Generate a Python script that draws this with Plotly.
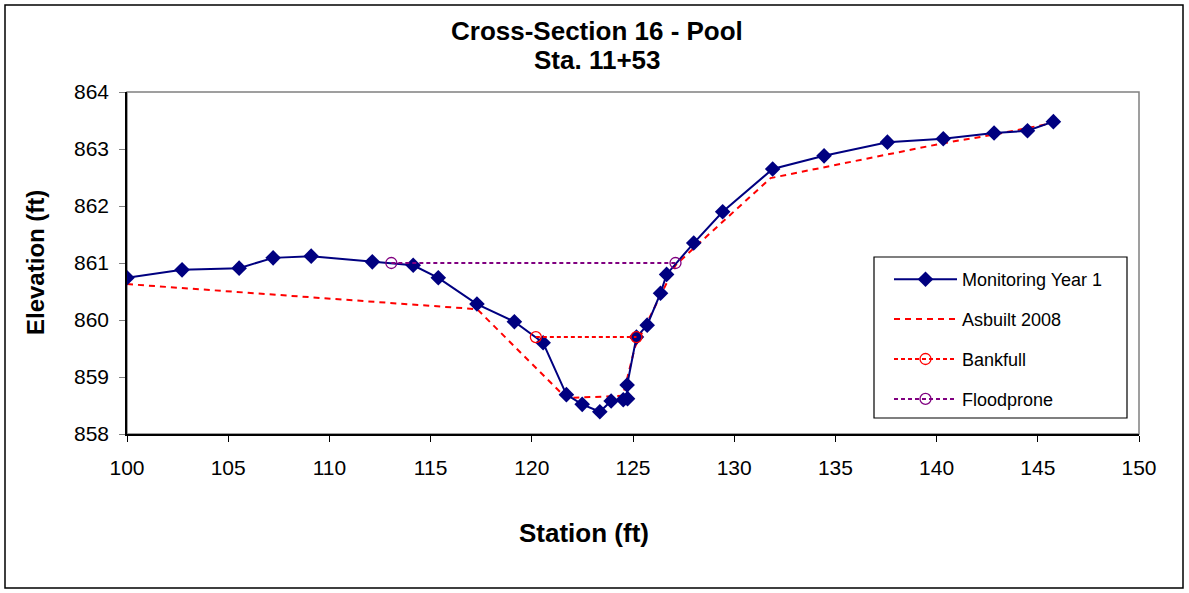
import plotly.graph_objects as go

# Monitoring Year 1
mon_x = [100.0, 102.72, 105.54, 107.22, 109.1, 112.12, 114.14, 115.38, 117.29, 119.14,
         120.56, 121.71, 122.49, 123.36, 123.92, 124.52, 124.73, 124.71, 125.17, 125.7,
         126.36, 126.66, 128.0, 129.43, 131.9, 134.44, 137.57, 140.33, 142.84, 144.49, 145.77]
mon_y = [860.74, 860.88, 860.91, 861.09, 861.12, 861.02, 860.96, 860.74, 860.28, 859.97,
         859.60, 858.69, 858.52, 858.39, 858.58, 858.60, 858.62, 858.86, 859.70, 859.91,
         860.47, 860.80, 861.35, 861.90, 862.65, 862.88, 863.12, 863.18, 863.28, 863.32, 863.48]

# Asbuilt 2008
asb_x = [100.0, 117.3, 121.7, 124.5, 125.1, 127.1, 128.0, 131.8, 140.3, 142.8, 145.8]
asb_y = [860.63, 860.19, 858.63, 858.67, 859.53, 860.96, 861.26, 862.49, 863.10, 863.25, 863.46]

# Bankfull
bkf_x = [120.2, 125.17]
bkf_y = [859.70, 859.70]

# Floodprone
fp_x = [113.06, 127.1]
fp_y = [861.0, 861.0]

x_ticks = [100, 105, 110, 115, 120, 125, 130, 135, 140, 145, 150]
y_ticks = [858, 859, 860, 861, 862, 863, 864]

FONT = "Liberation Sans, Arial, sans-serif"

fig = go.Figure()
fig.add_trace(go.Scatter(x=asb_x, y=asb_y, mode="lines", name="Asbuilt 2008",
                         legendgroup="b", legendrank=2,
                         line=dict(color="#FF0000", width=2, dash="6px,5px")))
fig.add_trace(go.Scatter(x=mon_x, y=mon_y, mode="lines+markers", name="Monitoring Year 1",
                         legendgroup="a", legendrank=1,
                         line=dict(color="#000080", width=2),
                         marker=dict(symbol="diamond", size=12, color="#000080")))
fig.add_trace(go.Scatter(x=bkf_x, y=bkf_y, mode="lines+markers", name="Bankfull",
                         legendgroup="c", legendrank=3,
                         line=dict(color="#FF0000", width=2, dash="4px,3px"),
                         marker=dict(symbol="circle-open", size=11, color="#FF0000",
                                     line=dict(width=1.3))))
fig.add_trace(go.Scatter(x=fp_x, y=fp_y, mode="lines+markers", name="Floodprone",
                         legendgroup="d", legendrank=4,
                         line=dict(color="#800080", width=2, dash="4px,3px"),
                         marker=dict(symbol="circle-open", size=11, color="#800080",
                                     line=dict(width=1.3))))

L, R, T, B = 127, 1139, 92, 434
W, H = 1189, 593
pw, ph = R - L, B - T

def px(x):
    return (x - L) / pw

def py(y):
    return (B - y) / ph

def label(text, x, y, size, angle=0):
    return dict(text=text, xref="paper", yref="paper", x=px(x), y=py(y),
                xanchor="center", yanchor="middle", showarrow=False,
                textangle=angle, font=dict(family=FONT, size=size, color="black"))

fig.update_layout(
    width=W, height=H,
    margin=dict(l=L, r=W - R, t=T, b=H - B, pad=0),
    paper_bgcolor="white", plot_bgcolor="white",
    font=dict(family=FONT, size=21, color="black"),
    showlegend=True,
    legend=dict(x=px(889), y=py(261), xanchor="left", yanchor="top",
                borderwidth=0, bgcolor="rgba(0,0,0,0)",
                font=dict(family=FONT, size=18, color="black"),
                tracegroupgap=13.5, itemwidth=63, traceorder="grouped"),
    xaxis=dict(range=[100, 150], tickvals=x_ticks, showgrid=False, zeroline=False,
               showline=True, linecolor="black", linewidth=1.5,
               ticks="outside", ticklen=6, tickcolor="black",
               tickfont=dict(family=FONT, size=21, color="black"), ticklabelstandoff=8),
    yaxis=dict(range=[858, 864], tickvals=y_ticks, showgrid=False, zeroline=False,
               showline=True, linecolor="black", linewidth=1.5,
               ticks="outside", ticklen=6, tickcolor="#808080",
               tickfont=dict(family=FONT, size=21, color="black"), ticklabelstandoff=6),
    shapes=[
        dict(type="rect", xref="paper", yref="paper", x0=0, x1=1, y0=0, y1=1,
             line=dict(color="#808080", width=1.5), layer="below"),
        dict(type="rect", xref="paper", yref="paper", x0=px(874), x1=px(1127),
             y0=py(418), y1=py(257), line=dict(color="black", width=1.2),
             fillcolor="white", layer="below"),
        dict(type="rect", xref="paper", yref="paper", x0=px(5), x1=px(1183),
             y0=py(588), y1=py(5), line=dict(color="black", width=1.5)),
    ],
    annotations=[
        label("<b>Cross-Section 16 - Pool</b>", 597, 31, 26),
        label("<b>Sta. 11+53</b>", 597, 60, 26),
        label("<b>Station (ft)</b>", 584, 533, 26),
        label("<b>Elevation (ft)</b>", 35, 263, 24, -90),
    ],
)

fig.write_html("out.html", config={"displayModeBar": False},
               post_script="document.body.style.margin='0px';document.body.style.overflow='hidden';")
